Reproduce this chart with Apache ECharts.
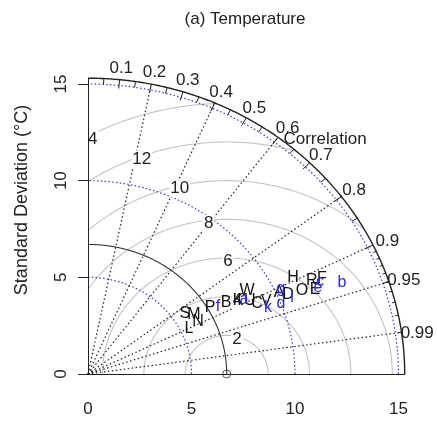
<!DOCTYPE html>
<html>
<head>
<meta charset="utf-8">
<script src="https://cdn.jsdelivr.net/npm/echarts@6/dist/echarts.min.js"></script>
<style>
  html, body { margin: 0; padding: 0; background: #fff; }
  #chart { width: 437px; height: 423px; }
</style>
</head>
<body>
<div id="chart"></div>
<script>
// Taylor diagram: standard deviation (radius) against correlation (angle)
const chartTitle = '(a) Temperature';
const sdAxisTitle = 'Standard Deviation (°C)';
const sdTicks = [0, 5, 10, 15];
const refSd = 6.7;                 // observed standard deviation
const maxSd = 15.3;                // outer arc
const sdArcs = [5, 10, 15];        // dotted standard-deviation arcs
const rmsLevels = [2, 4, 6, 8, 10, 12, 14];   // centred RMS difference circles
const corRays = [0.2, 0.4, 0.6, 0.8, 0.9, 0.95, 0.99];
const corLabels = [0.1, 0.2, 0.3, 0.4, 0.5, 0.6, 0.7, 0.8, 0.9, 0.95, 0.99];
const corTitle = 'Correlation';

// models plotted in black
const blackNames = ['S', 'M', 'L', 'N', 'P', 'B', 'K', 'W', 'U', 'C', 'V', 'A', 'D', 'O', 'H', 'R', 'E', 'F'];
const blackSd    = [5.65, 5.99, 5.43, 5.98, 6.86, 7.64, 8.20, 8.83, 8.71, 8.97, 9.41, 10.18, 10.51, 11.21, 11.10, 11.86, 11.84, 12.35];
const blackCor   = [0.829, 0.855, 0.899, 0.888, 0.859, 0.873, 0.884, 0.870, 0.898, 0.910, 0.914, 0.907, 0.919, 0.922, 0.892, 0.912, 0.927, 0.915];

// models plotted in blue
const blueNames = ['f', 'a', 'k', 'g', 'd', 'i', 'e', 'c', 'b'];
const blueSd    = [7.20, 8.50, 9.36, 10.33, 10.02, 10.63, 11.99, 12.20, 13.16];
const blueCor   = [0.872, 0.887, 0.929, 0.902, 0.930, 0.927, 0.927, 0.919, 0.932];

const FONT = '"Liberation Sans", Arial, Helvetica, sans-serif';
const INK = '#222';
const BLUE_LINE = '#3a3ac8';
const BLUE_TEXT = '#2a2ad8';
const TEXT_DY = 3;   // nudges label glyphs onto their anchor points

function toXY(sd, cor) {
  return [sd * cor, sd * Math.sqrt(1 - cor * cor)];
}
const blackData = blackNames.map((n, i) => toXY(blackSd[i], blackCor[i]).concat([n]));
const blueData = blueNames.map((n, i) => toXY(blueSd[i], blueCor[i]).concat([n]));

function frameItem(params, api) {
  const P = (x, y) => api.coord([x, y]);
  const polar = (r, a) => P(r * Math.cos(a), r * Math.sin(a));
  const kids = [];
  const line = (pts, style) => kids.push({ type: 'polyline', shape: { points: pts }, style: Object.assign({ fill: null }, style) });

  // RMS difference circles around the reference point
  rmsLevels.forEach(g => {
    let seg = [];
    for (let i = 0; i <= 720; i++) {
      const t = Math.PI * i / 720;
      const x = refSd + g * Math.cos(t), y = g * Math.sin(t);
      if (x >= 0 && x * x + y * y <= maxSd * maxSd) seg.push(P(x, y));
      else if (seg.length) { line(seg, { stroke: '#c4c4c4', lineWidth: 1.1 }); seg = []; }
    }
    if (seg.length) line(seg, { stroke: '#c4c4c4', lineWidth: 1.1 });
  });

  // dotted standard-deviation arcs
  sdArcs.forEach(r => {
    const pts = [];
    for (let i = 0; i <= 360; i++) pts.push(polar(r, Math.PI / 2 * i / 360));
    line(pts, { stroke: BLUE_LINE, lineWidth: 1.2, lineDash: [1.5, 2.3] });
  });

  // correlation rays
  corRays.forEach(c => {
    const a = Math.acos(c);
    line([P(0, 0), polar(maxSd, a)], { stroke: '#222', lineWidth: 1.2, lineDash: [1.5, 2.5] });
  });

  // reference standard deviation arc
  const refPts = [];
  for (let i = 0; i <= 360; i++) refPts.push(polar(refSd, Math.PI / 2 * i / 360));
  line(refPts, { stroke: '#333', lineWidth: 1.1 });

  // outer arc
  const outer = [];
  for (let i = 0; i <= 360; i++) outer.push(polar(maxSd, Math.PI / 2 * i / 360));
  line(outer, { stroke: INK, lineWidth: 1.4 });

  // correlation ticks on the outer arc
  const tick = (c, k) => {
    const a = Math.acos(c);
    line([polar(maxSd, a), polar(maxSd * k, a)], { stroke: INK, lineWidth: 1 });
  };
  for (let c = 1; c <= 9; c++) tick(c / 10, 0.97);
  for (let c = 0; c <= 9; c++) tick(0.05 + c / 10, 0.98);
  for (let c = 1; c <= 9; c++) tick(0.9 + c / 100, 0.99);

  // correlation labels
  corLabels.forEach(c => {
    const p = polar(maxSd * 1.05, Math.acos(c));
    kids.push({ type: 'text', x: p[0], y: p[1] + TEXT_DY, style: { text: String(c), fill: INK, font: '17px ' + FONT, align: 'center', verticalAlign: 'middle' } });
  });
  const ct = P(11.45, 12.2);
  kids.push({ type: 'text', x: ct[0], y: ct[1] + 1, style: { text: corTitle, fill: INK, font: '17px ' + FONT, align: 'center', verticalAlign: 'middle' } });

  return { type: 'group', children: kids };
}

function rmsLabelItem(params, api) {
  const kids = [];
  const n = rmsLevels.length;
  rmsLevels.forEach((g, k) => {
    const idx = Math.floor(45 + (70 - 45) * k / (n - 1));
    const t = (idx - 1) * 0.03;
    const x = refSd + g * Math.cos(t), y = g * Math.sin(t);
    const p = api.coord([x, y]);
    kids.push({ type: 'text', x: p[0], y: p[1] + TEXT_DY, style: { text: String(g), fill: INK, font: '17px ' + FONT, align: 'center', verticalAlign: 'middle', backgroundColor: '#fff', padding: [0, 1] } });
  });
  return { type: 'group', children: kids };
}

function markerItem(color) {
  return function (params, api) {
    const p = api.coord([api.value(0), api.value(1)]);
    return { type: 'text', x: p[0], y: p[1] + 1, style: { text: api.value(2), fill: color, font: '16px ' + FONT, align: 'center', verticalAlign: 'middle' } };
  };
}

const chart = echarts.init(document.getElementById('chart'), null, { renderer: 'canvas' });
chart.setOption({
  animation: false,
  backgroundColor: '#fff',
  grid: { left: 88, top: 78.2, width: 316.7, height: 295.8, containLabel: false },
  xAxis: {
    type: 'value', min: 0, max: maxSd, interval: 5,
    axisLine: { show: true, lineStyle: { color: INK, width: 1 } },
    axisTick: { show: false },
    axisLabel: { customValues: sdTicks, margin: 27, fontSize: 17, color: INK, fontFamily: FONT },
    splitLine: { show: false }
  },
  yAxis: {
    type: 'value', min: 0, max: maxSd, interval: 5, z: 5,
    axisLine: { show: true, lineStyle: { color: INK, width: 1 } },
    axisTick: { show: true, customValues: sdTicks, length: 10, lineStyle: { color: INK } },
    axisLabel: { customValues: sdTicks, rotate: 90, margin: 18, fontSize: 17, color: INK, fontFamily: FONT },
    splitLine: { show: false }
  },
  graphic: [
    { type: 'text', x: 245, y: 19, style: { text: chartTitle, fill: INK, font: '17px ' + FONT, align: 'center', verticalAlign: 'middle' } },
    { type: 'text', x: 22, y: 200, rotation: Math.PI / 2, style: { text: sdAxisTitle, fill: INK, font: '18px ' + FONT, align: 'center', verticalAlign: 'middle' } }
  ],
  series: [
    { type: 'custom', clip: false, silent: true, z: 1, data: [[0, 0]], renderItem: frameItem },
    { type: 'custom', clip: true, silent: true, z: 2, data: [[0, 0]], renderItem: rmsLabelItem },
    { type: 'scatter', z: 3, silent: true, symbol: 'circle', symbolSize: 8, data: [[refSd, 0]],
      itemStyle: { color: 'rgba(0,0,0,0)', borderColor: '#333', borderWidth: 1 } },
    { type: 'custom', z: 4, silent: true, data: blackData, encode: { x: 0, y: 1 }, renderItem: markerItem('#111') },
    { type: 'custom', z: 5, silent: true, data: blueData, encode: { x: 0, y: 1 }, renderItem: markerItem(BLUE_TEXT) }
  ]
});
</script>
</body>
</html>
